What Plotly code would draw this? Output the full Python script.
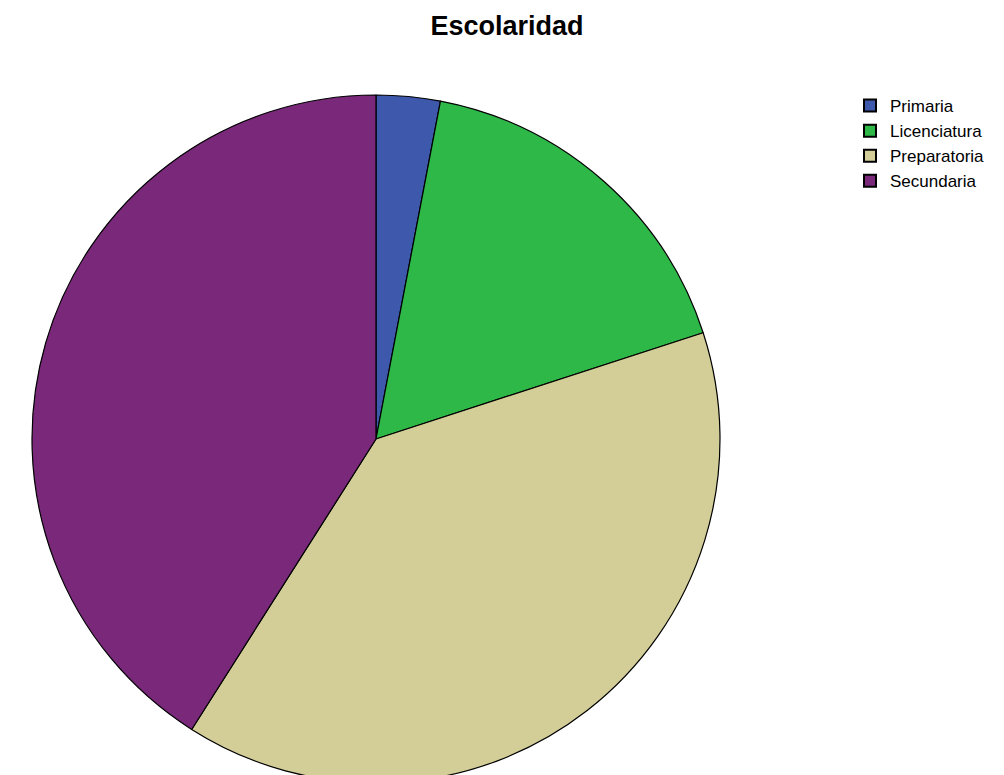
import plotly.graph_objects as go

categories = ["Primaria", "Licenciatura", "Preparatoria", "Secundaria"]
values = [3, 17, 39, 41]
colors = ["#3E58AC", "#2EB848", "#D3CE97", "#79287A"]

W, H = 1004, 775
cx, cy, r = 368, 432, 345

fig = go.Figure(go.Pie(
    labels=categories,
    values=values,
    sort=False,
    direction="clockwise",
    rotation=0,
    textinfo="none",
    marker=dict(colors=colors, line=dict(color="#000000", width=1.2)),
    domain=dict(x=[(cx - r) / W, (cx + r) / W], y=[max(0, (H - cy - r) / H), (H - cy + r) / H]),
))

fig.update_layout(
    width=W, height=H,
    margin=dict(l=0, r=0, t=0, b=0),
    paper_bgcolor="white",
    plot_bgcolor="white",
    title=dict(text="<b>Escolaridad</b>", x=0.497, xanchor="center", y=1 - 18 / H, yanchor="middle",
               font=dict(family="Liberation Sans, Arial", size=27, color="#000000")),
    legend=dict(x=842 / W, y=1 - 80 / H, xanchor="left", yanchor="top",
                font=dict(family="Liberation Sans, Arial", size=17, color="#000000"),
                itemsizing="constant", tracegroupgap=0, bgcolor="rgba(0,0,0,0)"),
    showlegend=True,
)

fig.write_html("out.html")
